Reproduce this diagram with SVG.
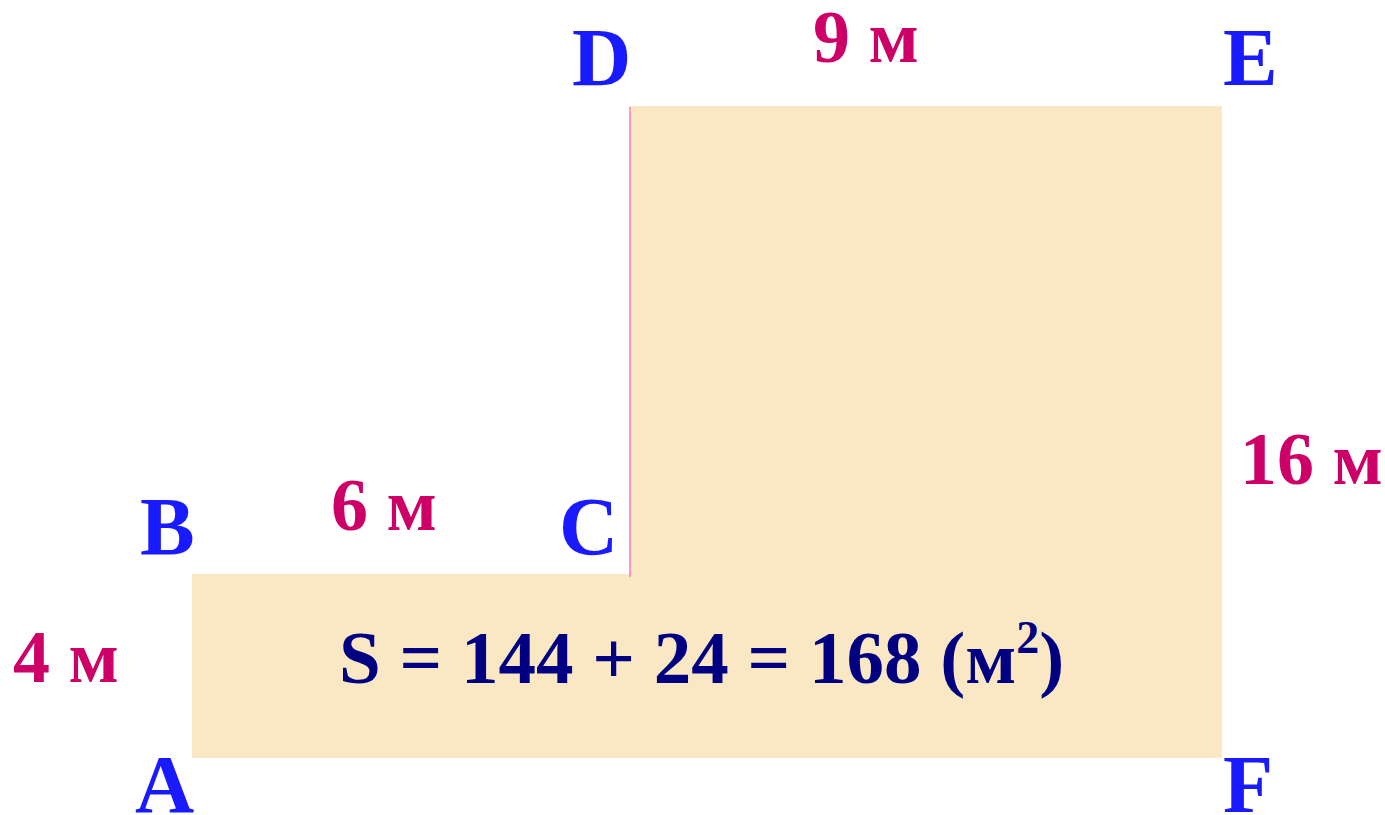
<svg xmlns="http://www.w3.org/2000/svg" width="1385" height="815" viewBox="0 0 1385 815">
<style>
.pt{font-family:"Liberation Serif","Times New Roman",serif;font-weight:bold;font-size:82px;fill:#1A1AFF}
.dim{font-family:"Liberation Serif","Times New Roman",serif;font-weight:bold;font-size:74px;fill:#CC0066}
.f{font-family:"Liberation Serif","Times New Roman",serif;font-weight:bold;font-size:75px;fill:#000080}
</style>
<rect width="1385" height="815" fill="#FFFFFF"/>
<g id="shape">
<path d="M630 106 H1222 V758 H192 V574 H630 Z" fill="#FAE8C4"/>
</g>
<g id="connectors">
<line x1="630" y1="107" x2="630" y2="577" stroke="#FF99BB" stroke-width="2"/>
</g>
<g id="labels">
<text id="D" class="pt" x="572" y="85">D</text>
<text id="E" class="pt" x="1223" y="85">E</text>
<text id="B" class="pt" x="140" y="554">B</text>
<text id="C" class="pt" x="559" y="554">C</text>
<text id="A" class="pt" x="135" y="812">A</text>
<text id="F" class="pt" x="1223" y="812">F</text>
<text class="dim" x="813" y="62">9 м</text>
<text class="dim" x="1240" y="484">16 м</text>
<text class="dim" x="13" y="682">4 м</text>
<text class="dim" x="331" y="530">6 м</text>
<text class="f" x="339" y="683">S = 144 + 24 = 168 (м<tspan font-size="46" dy="-30">2</tspan><tspan dy="30">)</tspan></text>
</g>
</svg>
